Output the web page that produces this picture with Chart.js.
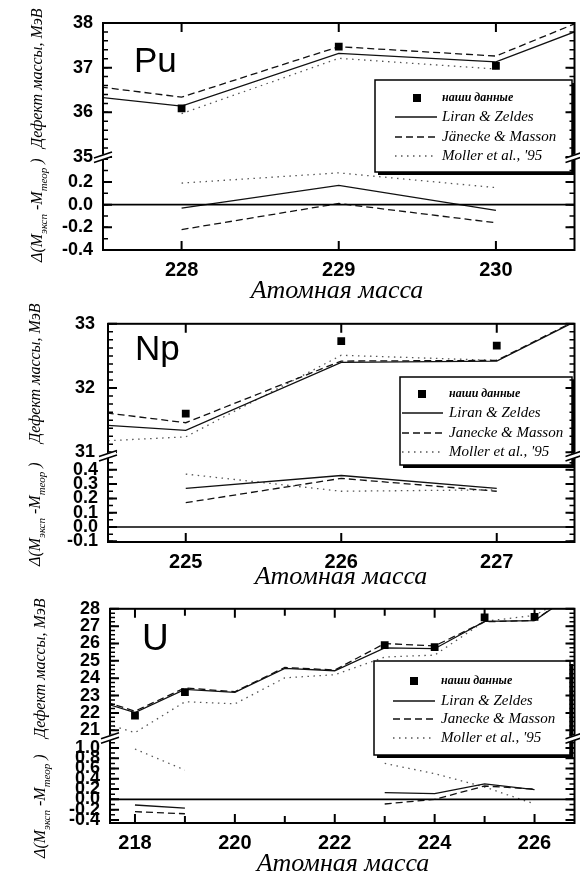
<!DOCTYPE html>
<html>
<head>
<meta charset="utf-8">
<script src="https://cdn.jsdelivr.net/npm/chart.js@4.4.1/dist/chart.umd.min.js"></script>
<style>
  html, body { margin: 0; padding: 0; background: #fff; }
  body { width: 580px; height: 878px; position: relative; overflow: hidden; }
  .panel { position: absolute; left: 0; width: 580px; }
</style>
</head>
<body>
<div class="panel" style="top:0;height:300px"><canvas id="chartPu"></canvas></div>
<div class="panel" style="top:300px;height:288px"><canvas id="chartNp"></canvas></div>
<div class="panel" style="top:588px;height:290px"><canvas id="chartU"></canvas></div>
<script>
// ---- Pu ----
const puMass = [227, 228, 229, 230, 231];
const puOurs = [null, 36.09, 37.47, 37.04, null];
const puLiran = [36.52, 36.14, 37.32, 37.13, 38.47];
const puJanecke = [36.78, 36.34, 37.47, 37.26, 38.7];
const puMoller = [null, 35.97, 37.21, 36.97, null];
const puDiffLiran = [null, -0.03, 0.17, -0.05, null];
const puDiffJanecke = [null, -0.22, 0.01, -0.16, null];
const puDiffMoller = [null, 0.19, 0.28, 0.15, null];
const puTicksX = [228, 229, 230];
const puTicksUp = [35, 36, 37, 38];
const puTicksDown = [-0.4, -0.2, 0.0, 0.2];

// ---- Np ----
const npMass = [224, 225, 226, 227, 228];
const npOurs = [null, 31.6, 32.73, 32.66, null];
const npLiran = [31.5, 31.34, 32.4, 32.42, 33.64];
const npJanecke = [31.76, 31.46, 32.42, 32.43, 33.65];
const npMoller = [31.12, 31.24, 32.51, 32.43, null];
const npDiffLiran = [null, 0.27, 0.36, 0.27, null];
const npDiffJanecke = [null, 0.17, 0.34, 0.25, null];
const npDiffMoller = [null, 0.37, 0.25, 0.26, null];
const npTicksX = [225, 226, 227];
const npTicksUp = [31, 32, 33];
const npTicksDown = [-0.1, 0.0, 0.1, 0.2, 0.3, 0.4];

// ---- U ----
const uMass = [217, 218, 219, 220, 221, 222, 223, 224, 225, 226, 227];
const uOurs = [null, 21.84, 23.2, null, null, null, 25.91, 25.79, 27.5, 27.53, null];
const uLiran = [22.9, 22.02, 23.36, 23.18, 24.57, 24.43, 25.75, 25.7, 27.27, 27.32, 29.3];
const uJanecke = [23.0, 22.1, 23.44, 23.22, 24.62, 24.47, 26.0, 25.86, 27.25, 27.33, 29.35];
const uMoller = [21.75, 20.86, 22.64, 22.52, 24.02, 24.2, 25.22, 25.33, 27.28, 27.62, 29.2];
const uDiffLiran = [null, -0.11, -0.17, null, null, null, 0.13, 0.11, 0.3, 0.19, null];
const uDiffJanecke = [null, -0.24, -0.28, null, null, null, -0.09, 0.0, 0.26, 0.2, null];
const uDiffMoller = [null, 0.98, 0.57, null, null, null, 0.7, 0.5, 0.24, -0.09, null];
const uTicksX = [218, 220, 222, 224, 226];
const uTicksXMinor = [219, 221, 223, 225];
const uTicksUp = [21, 22, 23, 24, 25, 26, 27, 28];
const uTicksDown = [-0.4, -0.2, 0.0, 0.2, 0.4, 0.6, 0.8, 1.0];

const SANS = '"Liberation Sans", Arial, sans-serif';
const SERIF = '"Liberation Serif", "Times New Roman", serif';

function series(xs, ys) {
  return xs.map((x, i) => ({ x: x, y: ys[i] }));
}

const solid = { borderColor: '#111', borderWidth: 1.3, pointRadius: 0, tension: 0 };
const dashed = { borderColor: '#111', borderWidth: 1.3, borderDash: [7, 4], pointRadius: 0, tension: 0 };
const dotted = { borderColor: '#555', borderWidth: 1.3, borderDash: [1.5, 4.5], pointRadius: 0, tension: 0 };

// inward ticks, frame, zero line, axis breaks, legend box and texts
function decoPlugin(p) {
  return {
    id: 'deco' + p.name,
    afterDraw(chart) {
      const ctx = chart.ctx;
      const a = chart.chartArea;
      const sx = chart.scales.x, su = chart.scales.yUp, sd = chart.scales.yDown;
      ctx.save();
      ctx.strokeStyle = '#000';
      ctx.fillStyle = '#000';

      // zero line in the lower part
      const y0 = sd.getPixelForValue(0);
      ctx.lineWidth = 1.6;
      ctx.beginPath(); ctx.moveTo(a.left, y0); ctx.lineTo(a.right, y0); ctx.stroke();

      // legend
      const L = p.legend;
      ctx.fillStyle = '#000';
      ctx.fillRect(L.x + 3, L.y + 3, L.w, L.h);
      ctx.fillStyle = '#fff';
      ctx.fillRect(L.x, L.y, L.w, L.h);
      ctx.lineWidth = 1.5;
      ctx.strokeRect(L.x, L.y, L.w, L.h);
      chart.data.datasets.slice(0, 4).forEach((ds, i) => {
        const ry = L.rows[i];
        ctx.fillStyle = '#000';
        if (i === 0) {
          ctx.fillRect(L.sq - 4, ry - 4, 8, 8);
          ctx.font = 'bold italic 12px ' + SERIF;
        } else {
          ctx.strokeStyle = ds.borderColor;
          ctx.lineWidth = ds.borderWidth;
          ctx.setLineDash(ds.borderDash || []);
          ctx.beginPath(); ctx.moveTo(L.l0, ry); ctx.lineTo(L.l1, ry); ctx.stroke();
          ctx.setLineDash([]);
          ctx.font = 'italic 15px ' + SERIF;
        }
        ctx.textBaseline = 'middle';
        ctx.textAlign = 'left';
        ctx.fillText(ds.label, L.tx, ry);
      });
      ctx.strokeStyle = '#000';

      // frame
      ctx.lineWidth = 2;
      ctx.strokeRect(a.left, a.top, a.right - a.left, a.bottom - a.top);

      // inward ticks
      function yTicks(scale, majors, step) {
        const draw = (v, len) => {
          const y = scale.getPixelForValue(v);
          ctx.beginPath();
          ctx.moveTo(a.left, y); ctx.lineTo(a.left + len, y);
          ctx.moveTo(a.right, y); ctx.lineTo(a.right - len, y);
          ctx.stroke();
        };
        ctx.lineWidth = 1.5;
        for (let v = Math.ceil(scale.min / step) * step; v <= scale.max + 1e-9; v += step) draw(v, 5);
        ctx.lineWidth = 2;
        majors.forEach(v => draw(v, 9));
      }
      yTicks(su, p.ticksUp, p.minorUp);
      yTicks(sd, p.ticksDown, p.minorDown);
      const xTick = (v, len) => {
        const x = sx.getPixelForValue(v);
        ctx.beginPath();
        ctx.moveTo(x, a.bottom); ctx.lineTo(x, a.bottom - len);
        ctx.moveTo(x, a.top); ctx.lineTo(x, a.top + len);
        ctx.stroke();
      };
      ctx.lineWidth = 2;
      p.ticksX.forEach(v => xTick(v, 9));
      (p.ticksXMinor || []).forEach(v => xTick(v, 7));

      // axis break marks
      const yb = su.bottom;
      [a.left, a.right].forEach(x0 => {
        ctx.strokeStyle = '#fff';
        ctx.lineWidth = 5;
        ctx.beginPath(); ctx.moveTo(x0 - 8, yb + 3); ctx.lineTo(x0 + 8, yb - 3); ctx.stroke();
        ctx.strokeStyle = '#000';
        ctx.lineWidth = 1.6;
        ctx.beginPath();
        ctx.moveTo(x0 - 9, yb + 1); ctx.lineTo(x0 + 9, yb - 5);
        ctx.moveTo(x0 - 9, yb + 5.5); ctx.lineTo(x0 + 9, yb - 0.5);
        ctx.stroke();
      });

      // element name
      ctx.fillStyle = '#000';
      ctx.textAlign = 'left';
      ctx.textBaseline = 'alphabetic';
      ctx.font = p.nameSize + 'px ' + SANS;
      ctx.fillText(p.name, p.nameX, p.nameY);

      // x title
      ctx.textAlign = 'center';
      ctx.font = 'italic 26px ' + SERIF;
      ctx.fillText('Атомная масса', p.titleX, p.titleY);

      // y title, rotated
      const big = 'italic 16px ' + SERIF, small = 'italic 11px ' + SERIF;
      ctx.textAlign = 'left';
      ctx.save();
      ctx.translate(p.yTitleX, p.yTitleDelta);
      ctx.rotate(-Math.PI / 2);
      let cx = 0;
      [['Δ(M', big, 0], ['эксп', small, 5], [' -M', big, 0], ['теор', small, 5], [' )', big, 0]].forEach(part => {
        ctx.font = part[1];
        ctx.fillText(part[0], cx, part[2]);
        cx += ctx.measureText(part[0]).width;
      });
      ctx.restore();
      ctx.save();
      ctx.translate(p.yTitleX, p.yTitleDefect);
      ctx.rotate(-Math.PI / 2);
      ctx.font = big;
      ctx.fillText('Дефект массы, МэВ', 0, 0);
      ctx.restore();

      ctx.restore();
    }
  };
}

function yScale(p, which) {
  const up = which === 'up';
  return {
    type: 'linear',
    position: 'left',
    stack: 'mass',
    stackWeight: up ? p.wUp : p.wDown,
    min: up ? p.upMin : p.downMin,
    max: up ? p.upMax : p.downMax,
    afterBuildTicks: s => { s.ticks = (up ? p.ticksUp : p.ticksDown).map(v => ({ value: v })); },
    afterFit: s => { s.width = p.left; },
    grid: { display: false, drawTicks: false },
    border: { display: false },
    ticks: {
      autoSkip: false,
      padding: up ? p.padUp : 10,
      color: '#000',
      font: { family: SANS, size: 18, weight: 'bold' },
      callback: v => up ? String(v) : Number(v).toFixed(1)
    }
  };
}

function makeChart(p) {
  const datasets = [
    { label: 'наши данные', data: series(p.mass, p.ours), yAxisID: 'yUp', showLine: false,
      pointStyle: 'rect', pointRadius: 5.5, backgroundColor: '#000', borderColor: '#000', borderWidth: 0 },
    Object.assign({ label: 'Liran & Zeldes', data: series(p.mass, p.liran), yAxisID: 'yUp' }, solid),
    Object.assign({ label: p.janeckeLabel, data: series(p.mass, p.janecke), yAxisID: 'yUp' }, dashed),
    Object.assign({ label: "Moller et al., '95", data: series(p.mass, p.moller), yAxisID: 'yUp' }, dotted),
    Object.assign({ label: 'd1', data: series(p.mass, p.dLiran), yAxisID: 'yDown' }, solid),
    Object.assign({ label: 'd2', data: series(p.mass, p.dJanecke), yAxisID: 'yDown' }, dashed),
    Object.assign({ label: 'd3', data: series(p.mass, p.dMoller), yAxisID: 'yDown' }, dotted)
  ];
  const canvas = document.getElementById(p.id);
  return new Chart(canvas.getContext('2d'), {
    type: 'line',
    data: { datasets: datasets },
    options: {
      responsive: true,
      maintainAspectRatio: false,
      animation: false,
      events: [],
      layout: { padding: { top: p.top, right: 580 - p.right, left: 0, bottom: 0 } },
      plugins: { legend: { display: false }, tooltip: { enabled: false } },
      scales: {
        x: {
          type: 'linear',
          min: p.xMin,
          max: p.xMax,
          afterBuildTicks: s => { s.ticks = p.ticksX.map(v => ({ value: v })); },
          afterFit: s => { s.height = p.canvasH - p.bottom; },
          grid: { display: false, drawTicks: false },
          border: { display: false },
          ticks: { autoSkip: false, maxRotation: 0, padding: 8, color: '#000',
                   font: { family: SANS, size: 20, weight: 'bold' } }
        },
        yDown: yScale(p, 'down'),
        yUp: yScale(p, 'up')
      }
    },
    plugins: [decoPlugin(p)]
  });
}

makeChart({
  id: 'chartPu', name: 'Pu', canvasH: 300,
  top: 23, bottom: 250, left: 103, right: 577,
  xMin: 227.5, xMax: 230.5,
  upMin: 35, upMax: 38, downMin: -0.4, downMax: 0.42, wUp: 134, wDown: 93,
  mass: puMass, ours: puOurs, liran: puLiran, janecke: puJanecke, moller: puMoller,
  dLiran: puDiffLiran, dJanecke: puDiffJanecke, dMoller: puDiffMoller,
  ticksX: puTicksX, ticksUp: puTicksUp, ticksDown: puTicksDown,
  minorUp: 0.2, minorDown: 0.1, padUp: 10,
  janeckeLabel: 'Jänecke & Masson',
  legend: { x: 375, y: 80, w: 197, h: 92, rows: [98, 117, 137, 156], sq: 417, l0: 395, l1: 437, tx: 442 },
  nameX: 134, nameY: 72, nameSize: 35,
  titleX: 337, titleY: 298,
  yTitleX: 42, yTitleDelta: 262, yTitleDefect: 148
});

makeChart({
  id: 'chartNp', name: 'Np', canvasH: 288,
  top: 15, bottom: 242, left: 108, right: 577,
  xMin: 224.5, xMax: 227.5,
  upMin: 30.95, upMax: 33, downMin: -0.105, downMax: 0.5, wUp: 137, wDown: 90,
  mass: npMass, ours: npOurs, liran: npLiran, janecke: npJanecke, moller: npMoller,
  dLiran: npDiffLiran, dJanecke: npDiffJanecke, dMoller: npDiffMoller,
  ticksX: npTicksX, ticksUp: npTicksUp, ticksDown: npTicksDown,
  minorUp: 0.125, minorDown: 0.05, padUp: 13,
  janeckeLabel: 'Janecke & Masson',
  legend: { x: 400, y: 77, w: 172, h: 88, rows: [94, 113, 133, 152], sq: 422, l0: 402, l1: 443, tx: 449 },
  nameX: 135, nameY: 60, nameSize: 35,
  titleX: 341, titleY: 284,
  yTitleX: 40, yTitleDelta: 266, yTitleDefect: 143
});

makeChart({
  id: 'chartU', name: 'U', canvasH: 290,
  top: 9, bottom: 235, left: 110, right: 577,
  xMin: 217.5, xMax: 226.8,
  upMin: 20.57, upMax: 28, downMin: -0.46, downMax: 1.2, wUp: 136, wDown: 90,
  mass: uMass, ours: uOurs, liran: uLiran, janecke: uJanecke, moller: uMoller,
  dLiran: uDiffLiran, dJanecke: uDiffJanecke, dMoller: uDiffMoller,
  ticksX: uTicksX, ticksXMinor: uTicksXMinor, ticksUp: uTicksUp, ticksDown: uTicksDown,
  minorUp: 0.25, minorDown: 0.1, padUp: 10,
  janeckeLabel: 'Janecke & Masson',
  legend: { x: 374, y: 73, w: 196, h: 94, rows: [93, 113, 131, 150], sq: 414, l0: 393, l1: 435, tx: 441 },
  nameX: 142, nameY: 62, nameSize: 37,
  titleX: 343, titleY: 283,
  yTitleX: 45, yTitleDelta: 270, yTitleDefect: 150
});
</script>
</body>
</html>
